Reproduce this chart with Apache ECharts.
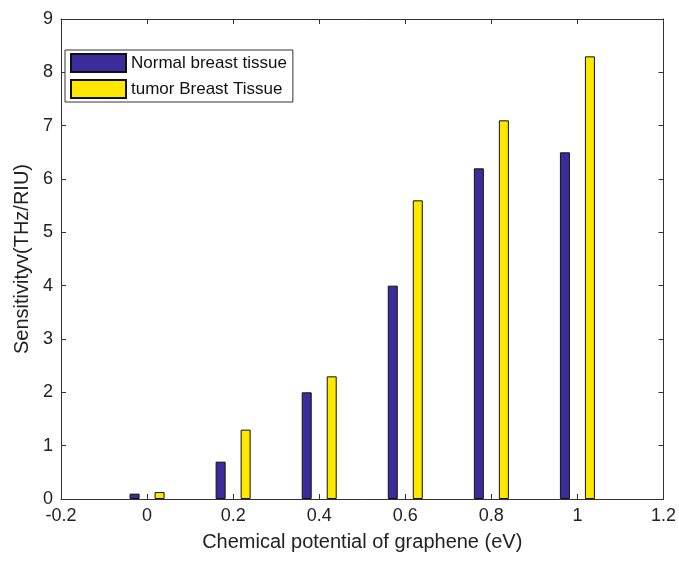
<!DOCTYPE html>
<html><head><meta charset="utf-8">
<script src="https://cdn.jsdelivr.net/npm/echarts@6/dist/echarts.min.js"></script>
<style>html,body{margin:0;padding:0;background:#fff}#c{width:679px;height:562px}</style>
</head><body><div id="c"></div>
<script>
const potentials = [0, 0.2, 0.4, 0.6, 0.8, 1.0];
const normalTissue = [0.1, 0.7, 2.0, 4.0, 6.2, 6.5];
const tumorTissue = [0.13, 1.3, 2.3, 5.6, 7.1, 8.3];
const seriesNames = ['Normal breast tissue', 'tumor Breast Tissue'];
const xTicks = [-0.2, 0, 0.2, 0.4, 0.6, 0.8, 1, 1.2];
const yTicks = [0,1,2,3,4,5,6,7,8,9];

const font = 'Liberation Sans, Arial, sans-serif';
const chart = echarts.init(document.getElementById('c'));
const axisCommon = {
  axisLine: {show: true, onZero: false, lineStyle: {color: '#333', width: 1}},
  axisTick: {show: true, inside: true, length: 5, lineStyle: {color: '#333'}},
  splitLine: {show: false}
};
chart.setOption({
  animation: false,
  grid: {left: 61, right: 10, top: 19, bottom: 63, containLabel: false},
  legend: {
    orient: 'vertical', left: 65, top: 50,
    icon: 'rect',
    itemWidth: 55, itemHeight: 18, itemGap: 6,
    padding: [3, 6, 3, 5],
    borderColor: '#333', borderWidth: 1, backgroundColor: '#fff',
    textStyle: {fontFamily: font, fontSize: 17, color: '#111'},
    data: seriesNames
  },
  xAxis: [
    Object.assign({type: 'value', min: -0.2, max: 1.2, interval: 0.2, position: 'bottom',
      name: 'Chemical potential of graphene (eV)', nameLocation: 'middle', nameGap: 33,
      nameTextStyle: {fontFamily: font, fontSize: 20, color: '#222'},
      axisLabel: {fontFamily: font, fontSize: 18, color: '#222', margin: 8,
        formatter: v => { const r = Math.round(v*10)/10; return xTicks.includes(r) ? String(r) : ''; }}
    }, axisCommon),
    Object.assign({type: 'value', min: -0.2, max: 1.2, interval: 0.2, position: 'top',
      axisLabel: {show: false}}, axisCommon)
  ],
  yAxis: [
    Object.assign({type: 'value', min: 0, max: 9, interval: 1, position: 'left',
      name: 'Sensitivityv(THz/RIU)', nameLocation: 'middle', nameGap: 24,
      nameTextStyle: {fontFamily: font, fontSize: 20, color: '#222'},
      axisLabel: {fontFamily: font, fontSize: 18, color: '#222', margin: 8,
        formatter: v => yTicks.includes(v) ? String(v) : ''}
    }, axisCommon),
    Object.assign({type: 'value', min: 0, max: 9, interval: 1, position: 'right',
      axisLabel: {show: false}}, axisCommon)
  ],
  series: [
    {name: seriesNames[0], type: 'bar', xAxisIndex: 0, yAxisIndex: 0,
      barWidth: 10, barGap: '150%',
      itemStyle: {color: '#3B2C9B', borderColor: '#111', borderWidth: 1},
      data: potentials.map((x, i) => [x, normalTissue[i]])},
    {name: seriesNames[1], type: 'bar', xAxisIndex: 0, yAxisIndex: 0,
      barWidth: 10, barGap: '150%',
      itemStyle: {color: '#FFE800', borderColor: '#111', borderWidth: 1},
      data: potentials.map((x, i) => [x, tumorTissue[i]])}
  ]
});
</script></body></html>
